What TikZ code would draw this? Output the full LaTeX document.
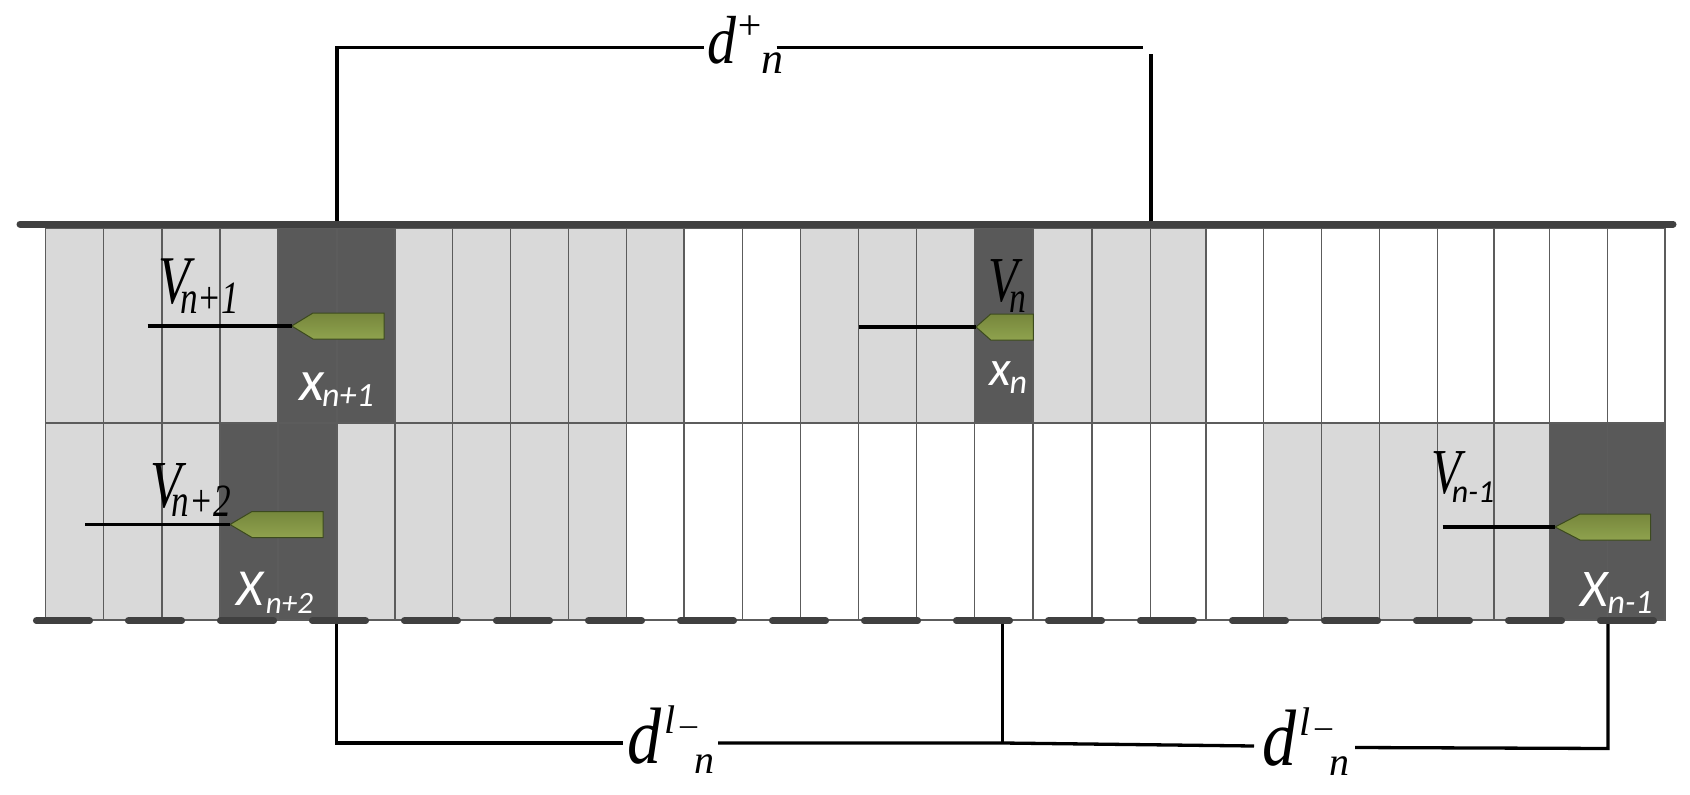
\documentclass[tikz,border=0pt]{standalone}
\usepackage{fontspec}
\setmainfont{Liberation Serif}
\newfontfamily\calib{Carlito}
\usepackage{graphicx}
\definecolor{lightg}{HTML}{D9D9D9}
\definecolor{darkg}{HTML}{595959}
\definecolor{borderg}{HTML}{5C5C5C}
\definecolor{railg}{HTML}{404040}
\definecolor{arrowtop}{HTML}{76873C}
\definecolor{arrowbot}{HTML}{8FA24E}
\definecolor{arrowedge}{HTML}{3C4A1E}
\tikzset{
  lab/.style={anchor=base west, inner sep=0pt, outer sep=0pt},
  cellL/.style={fill=lightg, draw=borderg, line width=1.2pt},
  cellD/.style={fill=darkg, draw=borderg, line width=1.2pt},
  cellW/.style={fill=white, draw=borderg, line width=1.2pt},
  rail/.style={draw=railg, line width=7pt, line cap=round},
  dashseg/.style={draw=railg, line width=6.7pt, line cap=round},
  bracket/.style={draw=black, line width=3.3pt, line join=miter},
  lead/.style={draw=black, line width=3.5pt},
  garrow/.style={draw=arrowedge, line width=1pt, top color=arrowtop, bottom color=arrowbot},
  wlab/.style={lab, text=white, font=\calib\itshape},
}
\newcommand\garrow[5]{% name, tip x, y, body start x, end x
  \draw[garrow] (#2,#3) -- (#4,#3-13) -- (#5,#3-13) -- (#5,#3+13) -- (#4,#3+13) -- cycle;
  \coordinate (#1) at (#2,#3);}
\newcommand\fs[1]{\fontsize{#1}{#1}\selectfont}
\newcommand\dlminus{\itshape\scalebox{0.85}[1]{\fs{80}d}\kern3pt\raisebox{30pt}{\fs{40}l}\kern5pt\raisebox{28pt}{\fs{34}\char"2013}\kern-3pt\raisebox{-10pt}{\fs{40}n}}
\begin{document}
\begin{tikzpicture}[x=1pt,y=-1pt]
\useasboundingbox (0,0) rectangle (1690,795);
% column boundaries
\foreach \x [count=\i from 0] in {45.7,103.7,162,220,278,337,395,452.3,510.3,568.3,626.3,684,742.3,800.5,858.7,916.3,974.3,1033,1092,1150.7,1206,1263.3,1321.7,1379.3,1437.3,1494,1549.3,1607.3,1665}
  {\coordinate (c\i) at (\x,0);}
% row 1
\foreach \t [count=\i from 0] in {L,L,L,L,D,D,L,L,L,L,L,W,W,L,L,L,D,L,L,L,W,W,W,W,W,W,W,W}
  {\pgfmathtruncatemacro\j{\i+1}
   \path[cell\t] (c\i |- 0,228) rectangle (c\j |- 0,423);}
% row 2
\foreach \t [count=\i from 0] in {L,L,L,D,D,L,L,L,L,L,W,W,W,W,W,W,W,W,W,W,W,L,L,L,L,L,D,D}
  {\pgfmathtruncatemacro\j{\i+1}
   \path[cell\t] (c\i |- 0,423) rectangle (c\j |- 0,620);}

% top bracket
\coordinate (tbL) at (337,222);
\coordinate (tbLc) at (337,47.7);
\coordinate (tbLe) at (704,47.7);
\coordinate (tbRs) at (776.7,47.7);
\coordinate (tbRe) at (1143,47.7);
\coordinate (tbRt) at (1151,54);
\coordinate (tbR) at (1151,222);
\draw[bracket] (tbL) -- (tbLc) -- (tbLe);
\draw[bracket] (tbRs) -- (tbRe);
\draw[bracket] (tbRt) -- (tbR);

% bottom brackets
\coordinate (bbL) at (336.3,621);
\coordinate (bbLc) at (336.3,743);
\coordinate (bbLe) at (623.3,743);
\coordinate (bbMs) at (718,743);
\coordinate (bbM) at (1002.5,743);
\coordinate (bbMt) at (1002.5,621);
\coordinate (bbRe) at (1254,746);
\coordinate (bbRs) at (1355,747.5);
\coordinate (bbRc) at (1608,748.5);
\coordinate (bbRt) at (1608,621);
\draw[bracket] (bbL) -- (bbLc) -- (bbLe);
\draw[bracket] (bbMs) -- (bbM) -- (bbRe);
\draw[bracket] (bbMt) -- (bbM);
\draw[bracket] (bbRs) -- (bbRc) -- (bbRt);

% rails
\coordinate (railL) at (20,224);
\coordinate (railR) at (1673,224);
\draw[rail] (railL) -- (railR);
\foreach \k in {0,...,17}
  {\draw[dashseg] ({36.3+92*\k},620.7) -- ({89.7+92*\k},620.7);}

% green arrows and leads
\garrow{a1}{291.7}{326}{313}{384}
\coordinate (s1) at (147.7,326);
\draw[lead] (s1) -- (a1);
\garrow{a2}{230}{524.5}{252}{323}
\coordinate (s2) at (85,524.5);
\draw[lead] (s2) -- (a2);
\garrow{a3}{976}{327}{990.7}{1033.3}
\coordinate (s3) at (858.7,327);
\draw[lead] (s3) -- (a3);
\garrow{a4}{1555}{527}{1580}{1650.7}
\coordinate (s4) at (1442.7,527);
\draw[lead] (s4) -- (a4);

% V labels
\node[lab] (vn1) at (158,303.3) {\scalebox{0.8}[1.05]{\fs{65}\itshape V\kern-12pt\raisebox{-10pt}{\fs{44}n+1}}};
\node[lab] (vn2) at (150,507) {\scalebox{0.8}[1.05]{\fs{64}\itshape V\kern-12pt\raisebox{-9pt}{\fs{44}n+2}}};
\node[lab] (vn) at (988.7,301.7) {\scalebox{0.8}[1.05]{\fs{61}\itshape V\kern-11pt\raisebox{-10pt}{\fs{42}n}}};
\node[lab] (vnm1) at (1431,493) {\scalebox{0.8}[1.05]{\fs{61}\itshape V}\kern-9pt\raisebox{-9pt}{\calib\itshape\fs{32}n-1}};

% white x labels
\node[wlab] (xn1) at (299,400) {\fs{58}x\kern-2pt\raisebox{-6.7pt}{\fs{34}n+1}};
\node[wlab] (xn) at (989,385) {\fs{50}x\kern-1pt\raisebox{-8pt}{\fs{34}n}};
\node[wlab] (xn2) at (236,605) {\fs{52}X\kern3pt\raisebox{-8pt}{\fs{31}n+2}};
\node[wlab] (xnm1) at (1580,606.7) {\fs{53}X\kern0pt\raisebox{-6.3pt}{\fs{34}n-1}};

% d labels
\node[lab] (dplus) at (707,63.3) {\itshape\scalebox{0.85}[1]{\fs{68}d}\raisebox{24pt}{\fs{42}+}\kern-3pt\raisebox{-10pt}{\fs{44}n}};
\node[lab] (dl1) at (627,763.3) {\dlminus};
\node[lab] (dl2) at (1262,765) {\dlminus};
\end{tikzpicture}
\end{document}
